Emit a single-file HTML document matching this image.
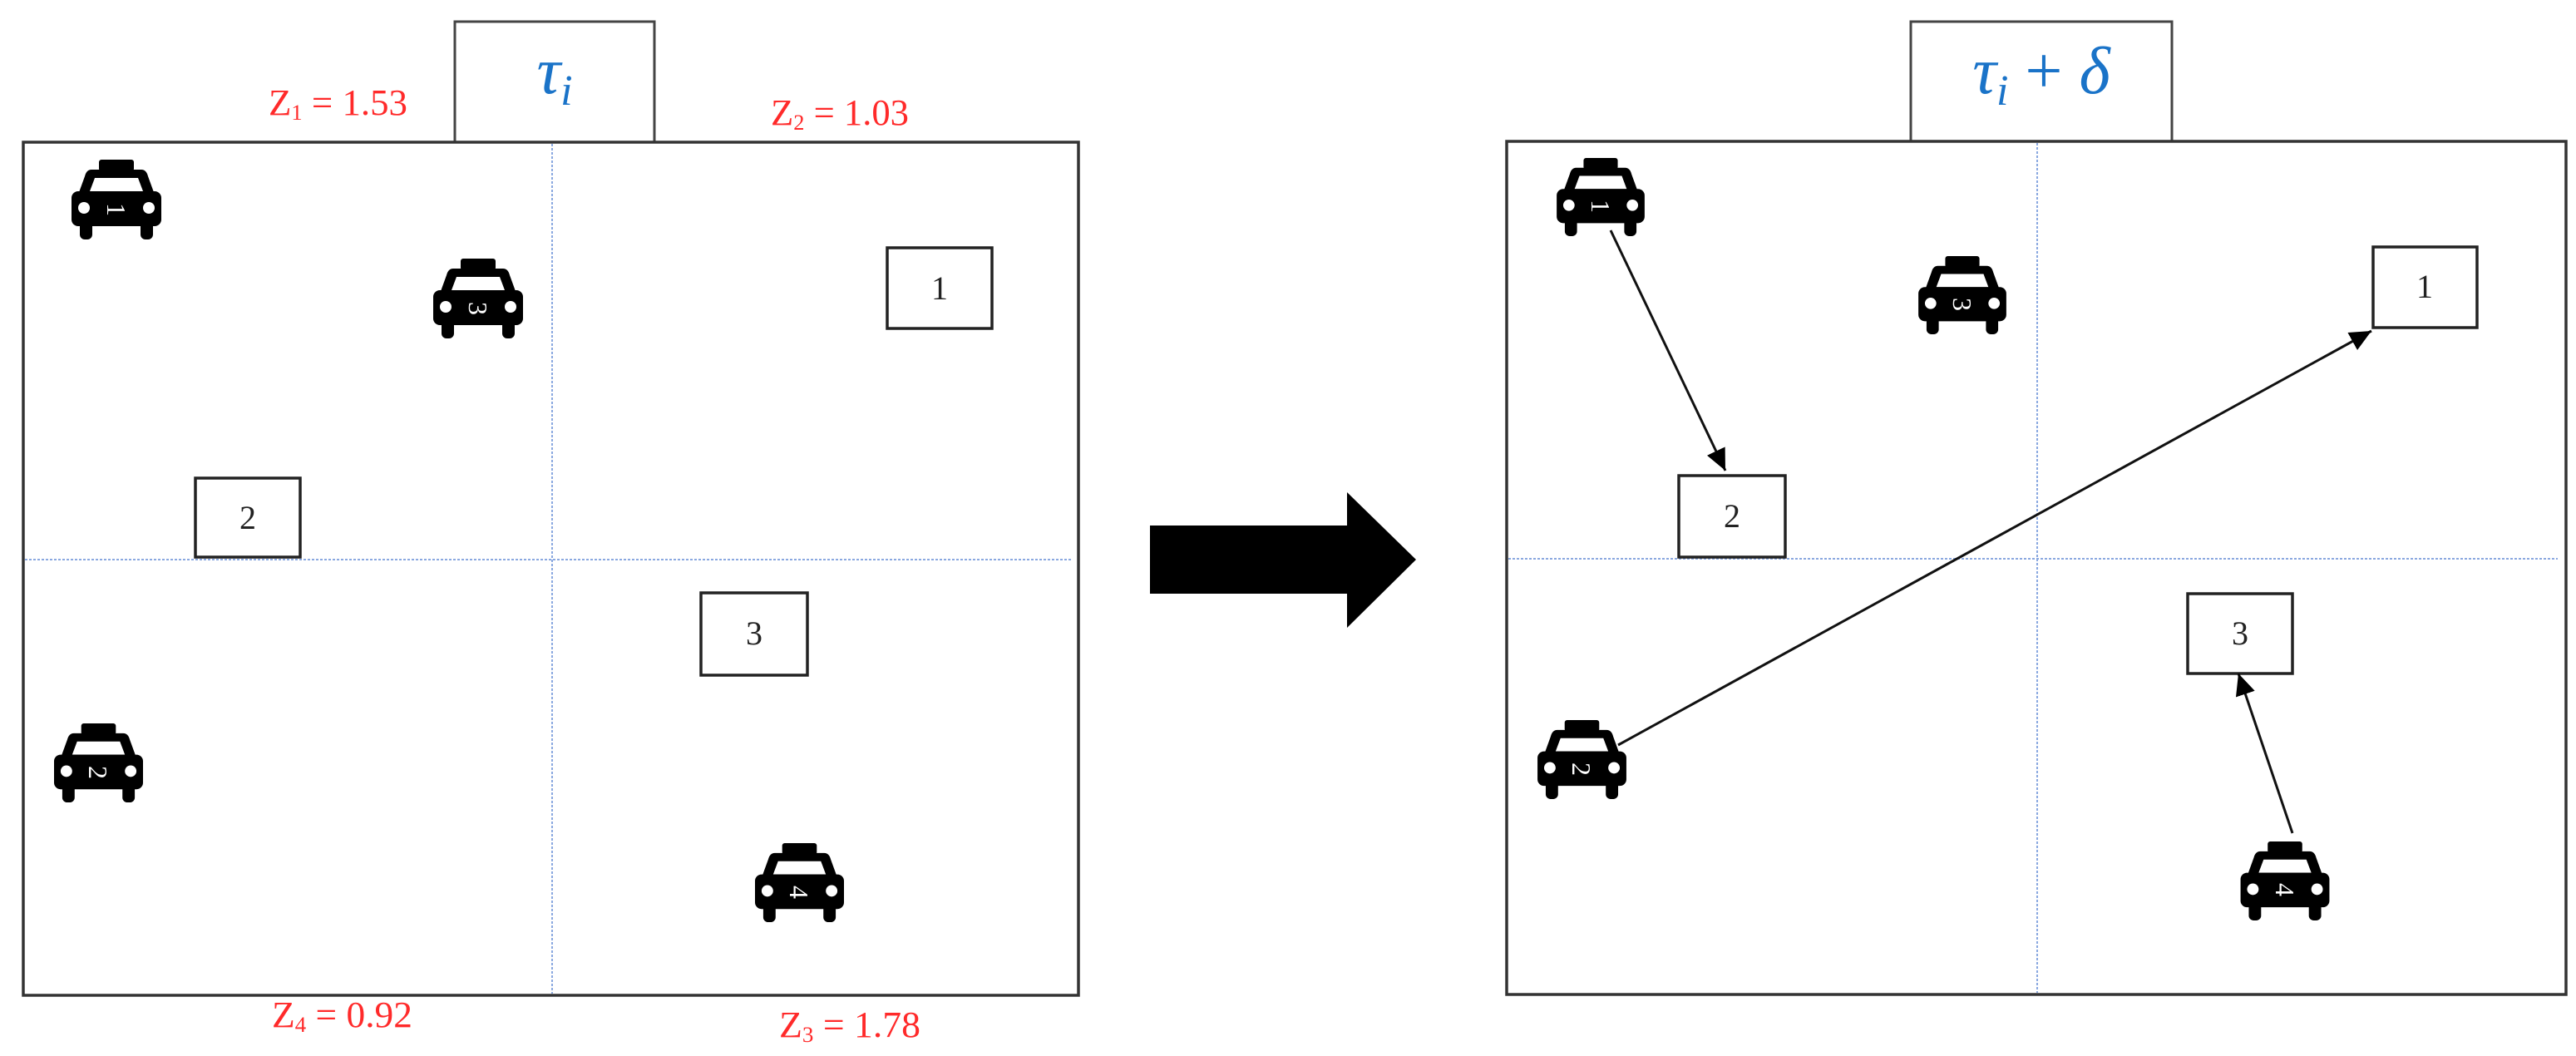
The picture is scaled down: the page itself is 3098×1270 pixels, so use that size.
<!DOCTYPE html>
<html><head><meta charset="utf-8"><style>html,body{margin:0;padding:0;background:#fff;}svg{display:block}</style></head>
<body>
<svg width="3098" height="1270" viewBox="0 0 3098 1270" xmlns="http://www.w3.org/2000/svg">
<defs>
<symbol id="car" viewBox="0 0 108 96">
<rect x="33" y="0" width="42" height="14" rx="3" fill="#000"/>
<path d="M24 12 H84 Q90 12 92 20 L100 42 H8 L16 20 Q18 12 24 12 Z" fill="#000"/>
<path d="M28 22 H80 L86 38 H22 Z" fill="#fff"/>
<rect x="0" y="38" width="108" height="42" rx="8" fill="#000"/>
<circle cx="15" cy="58" r="7" fill="#fff"/>
<circle cx="93" cy="58" r="7" fill="#fff"/>
<rect x="10" y="74" width="15" height="22" rx="6" fill="#000"/>
<rect x="83" y="74" width="15" height="22" rx="6" fill="#000"/>
</symbol>
<marker id="ah2" viewBox="0 0 10 10" refX="10" refY="5" markerWidth="26" markerHeight="24" orient="auto" markerUnits="userSpaceOnUse" preserveAspectRatio="none">
<path d="M0 0 L10 5 L0 10 Z" fill="#000"/>
</marker>
</defs>
<g font-family="Liberation Serif, serif">
<!-- LEFT -->
<rect x="547" y="26" width="240" height="145" fill="#fff" stroke="#444" stroke-width="3"/>
<text x="667" y="112" font-size="80" font-style="italic" fill="#1a73c8" text-anchor="middle">τ<tspan font-size="52" dy="14">i</tspan></text>
<rect x="28" y="171" width="1269" height="1026" fill="none" stroke="#333" stroke-width="3.5"/>
<line x1="664" y1="173" x2="664" y2="1195" stroke="#8aa8e0" stroke-width="2" stroke-dasharray="3,2"/>
<line x1="30" y1="673" x2="1290" y2="673" stroke="#8aa8e0" stroke-width="2" stroke-dasharray="3,2"/>
<g fill="#ff2a2a" font-size="44">
<text x="323" y="138" textLength="167" lengthAdjust="spacingAndGlyphs">Z<tspan font-size="26" dy="6">1</tspan><tspan dy="-6"> = 1.53</tspan></text>
<text x="927" y="150" textLength="166" lengthAdjust="spacingAndGlyphs">Z<tspan font-size="26" dy="6">2</tspan><tspan dy="-6"> = 1.03</tspan></text>
<text x="327" y="1235" textLength="169" lengthAdjust="spacingAndGlyphs">Z<tspan font-size="26" dy="6">4</tspan><tspan dy="-6"> = 0.92</tspan></text>
<text x="937" y="1247" textLength="170" lengthAdjust="spacingAndGlyphs">Z<tspan font-size="26" dy="6">3</tspan><tspan dy="-6"> = 1.78</tspan></text>
</g>
<g fill="#fff" stroke="#222" stroke-width="3.5">
<rect x="1067" y="298" width="126" height="97"/>
<rect x="235" y="575" width="126" height="95"/>
<rect x="843" y="713" width="128" height="99"/>
</g>
<g font-size="40" fill="#222" text-anchor="middle">
<text x="1130" y="360">1</text><text x="298" y="636">2</text><text x="907" y="775">3</text>
</g>
<use href="#car" x="86" y="192" width="108" height="96"/>
<use href="#car" x="521" y="311" width="108" height="96"/>
<use href="#car" x="65" y="869" width="107" height="97"/>
<use href="#car" x="908" y="1013" width="107" height="97"/>
<g fill="#fff" font-size="32" text-anchor="middle">
<text transform="translate(140,252) rotate(90)" y="11">1</text>
<text transform="translate(575,371) rotate(90)" y="11">3</text>
<text transform="translate(118,929) rotate(90)" y="11">2</text>
<text transform="translate(961,1073) rotate(90)" y="11">4</text>
</g>
<!-- BIG ARROW -->
<path d="M1383 632 H1620 V592 L1703 673 L1620 755 V714 H1383 Z" fill="#000"/>
<!-- RIGHT -->
<rect x="2298" y="26" width="314" height="144" fill="#fff" stroke="#444" stroke-width="3"/>
<text x="2455" y="112" font-size="80" font-style="italic" fill="#1a73c8" text-anchor="middle">τ<tspan font-size="52" dy="14">i</tspan><tspan dy="-14" font-style="normal"> + </tspan>δ</text>
<rect x="1812" y="170" width="1274" height="1026" fill="none" stroke="#333" stroke-width="3.5"/>
<line x1="2450" y1="172" x2="2450" y2="1194" stroke="#8aa8e0" stroke-width="2" stroke-dasharray="3,2"/>
<line x1="1814" y1="672" x2="3076" y2="672" stroke="#8aa8e0" stroke-width="2" stroke-dasharray="3,2"/>
<g fill="#fff" stroke="#222" stroke-width="3.5">
<rect x="2854" y="297" width="125" height="97"/>
<rect x="2019" y="572" width="128" height="98"/>
<rect x="2631" y="714" width="126" height="96"/>
</g>
<g font-size="40" fill="#222" text-anchor="middle">
<text x="2916" y="358">1</text><text x="2083" y="634">2</text><text x="2694" y="775">3</text>
</g>
<use href="#car" x="1871" y="190" width="108" height="94"/>
<use href="#car" x="2306" y="308" width="108" height="94"/>
<use href="#car" x="1848" y="866" width="109" height="95"/>
<use href="#car" x="2694" y="1012" width="108" height="95"/>
<g fill="#fff" font-size="32" text-anchor="middle">
<text transform="translate(1925,248) rotate(90)" y="11">1</text>
<text transform="translate(2360,366) rotate(90)" y="11">3</text>
<text transform="translate(1902,925) rotate(90)" y="11">2</text>
<text transform="translate(2748,1070) rotate(90)" y="11">4</text>
</g>
<g stroke="#111" stroke-width="3" fill="none">
<line x1="1937" y1="277" x2="2075" y2="566" marker-end="url(#ah2)"/>
<line x1="1946" y1="896" x2="2852" y2="398" marker-end="url(#ah2)"/>
<line x1="2757" y1="1002" x2="2692" y2="810" marker-end="url(#ah2)"/>
</g>
</g>
</svg>
</body></html>
